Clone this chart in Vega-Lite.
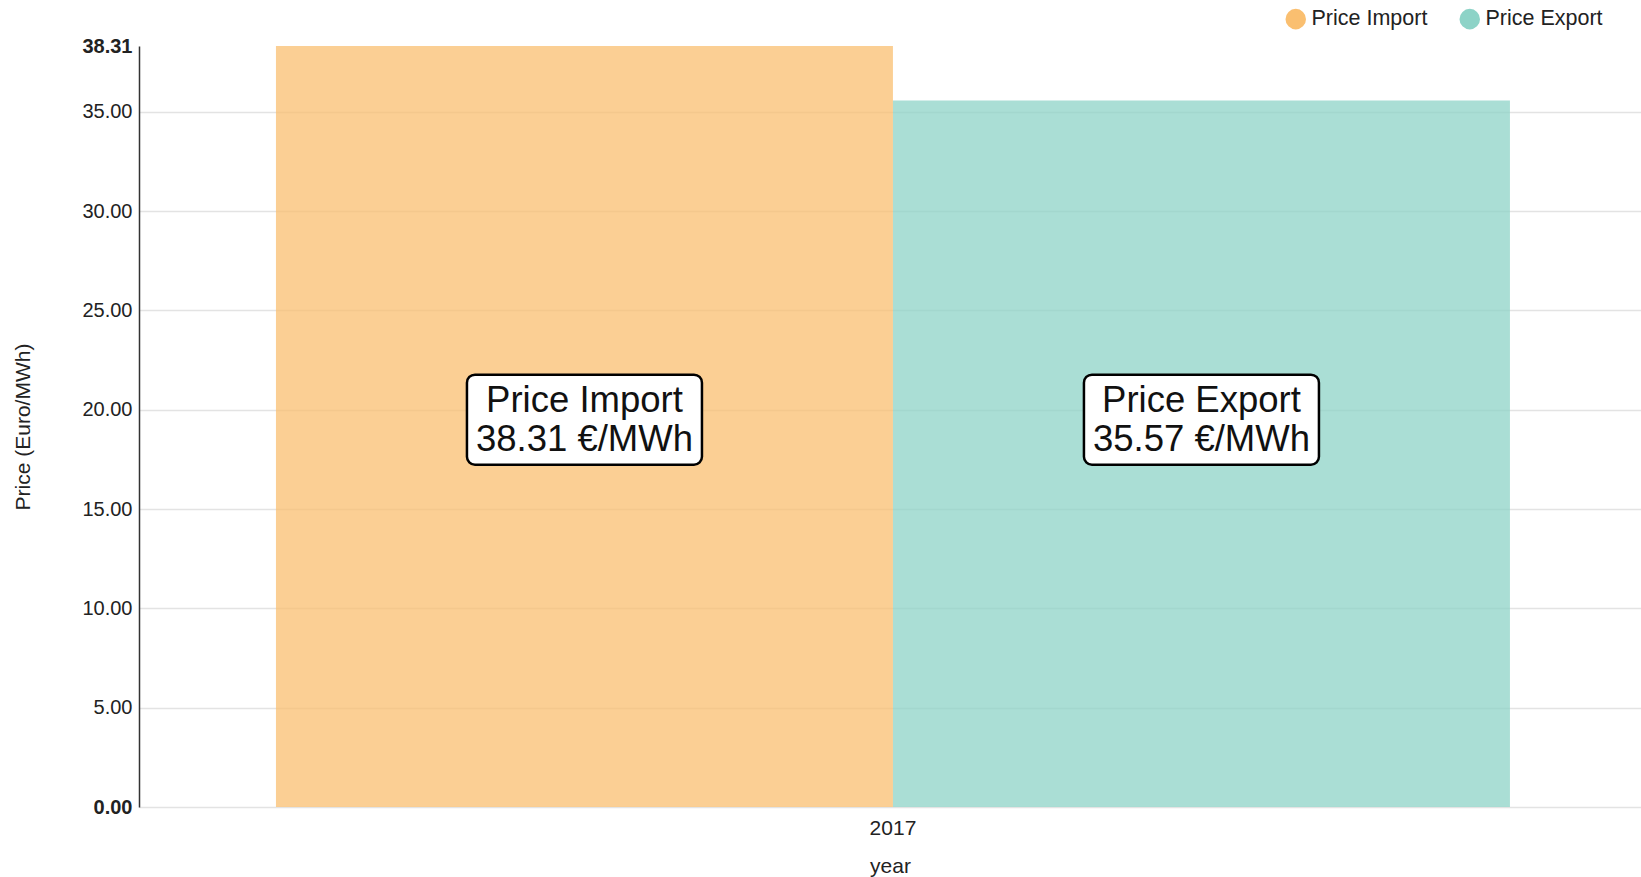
{
  "$schema": "https://vega.github.io/schema/vega-lite/v6.json",
  "width": 1502,
  "height": 761,
  "autosize": {"type": "none"},
  "padding": {"left": 139, "top": 46, "right": 0, "bottom": 70},
  "background": "white",
  "config": {"view": {"stroke": null}, "font": "Liberation Sans"},
  "data": {"values": [
    {"year": "2017", "series": "Price Import", "price": 38.31},
    {"year": "2017", "series": "Price Export", "price": 35.57}
  ]},
  "transform": [
    {"calculate": "datum.series + '\\n' + format(datum.price, '.2f') + ' €/MWh'", "as": "label"}
  ],
  "encoding": {
    "x": {
      "field": "year", "type": "nominal",
      "scale": {"paddingOuter": 0.1086, "paddingInner": 0, "align": 0.511},
      "axis": {"labelAngle": 0, "domain": false, "ticks": false, "grid": false, "labelFontSize": 21, "labelColor": "#222", "labelPadding": 10, "title": "year", "titleFontSize": 21, "titleFontWeight": "normal", "titleColor": "#222", "titlePadding": 17}
    },
    "xOffset": {"field": "series", "type": "nominal", "sort": ["Price Import", "Price Export"], "scale": {"paddingInner": 0, "paddingOuter": 0}}
  },
  "layer": [
    {
      "mark": {"type": "bar", "opacity": 0.75},
      "encoding": {
        "y": {
          "field": "price", "type": "quantitative",
          "scale": {"domain": [0, 38.31], "nice": false, "zero": true},
          "title": "Price (Euro/MWh)",
          "axis": {
            "values": [0, 5, 10, 15, 20, 25, 30, 35, 38.31],
            "format": ".2f",
            "labelFontSize": 20,
            "labelColor": "#222",
            "labelFontWeight": {"condition": {"test": "datum.value == 0 || datum.value == 38.31", "value": "bold"}, "value": "normal"},
            "ticks": false,
            "tickSize": 0,
            "labelPadding": 7,
            "domainColor": "#333",
            "domainWidth": 1.5,
            "gridColor": {"condition": {"test": "datum.value == 38.31", "value": "transparent"}, "value": "#e3e3e3"},
            "gridWidth": 1.5,
            "titleFontSize": 21,
            "titleFontWeight": "normal",
            "titleColor": "#222",
            "titlePadding": 48
          }
        },
        "color": {
          "field": "series", "type": "nominal",
          "scale": {"domain": ["Price Import", "Price Export"], "range": ["#fabf70", "#8dd3c7"]},
          "legend": {
            "title": null, "orient": "none", "legendX": 1146, "legendY": -38,
            "direction": "horizontal", "symbolType": "circle", "symbolSize": 420,
            "symbolOpacity": 1, "symbolStrokeWidth": 0, "labelFontSize": 21.5,
            "labelColor": "#222", "labelOffset": 5, "columnPadding": 31
          }
        }
      }
    },
    {
      "mark": {"type": "rect", "width": 235, "height": 90, "cornerRadius": 8, "fill": "white", "stroke": "black", "strokeWidth": 2.5},
      "encoding": {"y": {"datum": 19.5, "type": "quantitative", "title": "Price (Euro/MWh)"}}
    },
    {
      "mark": {"type": "text", "fontSize": 36.5, "lineHeight": 39, "lineBreak": "\n", "baseline": "middle", "align": "center", "color": "#111", "dy": -19},
      "encoding": {"y": {"datum": 19.5, "type": "quantitative", "title": "Price (Euro/MWh)"}, "text": {"field": "label"}}
    }
  ]
}
